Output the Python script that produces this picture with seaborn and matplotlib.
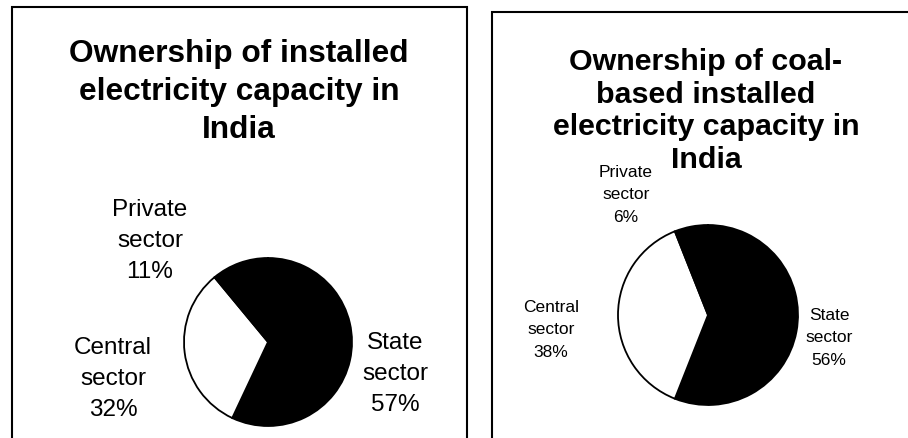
import matplotlib
matplotlib.use("Agg")
import matplotlib.pyplot as plt
from matplotlib.patches import Rectangle
import seaborn as sns

sns.set_theme(style="white")
plt.rcParams["font.family"] = ["Liberation Sans", "DejaVu Sans"]
plt.rcParams["text.color"] = "black"

# Shares of installed capacity by ownership (percent), Excel-style order
sectors = ["State", "Central", "Private"]
all_capacity = [57, 32, 11]
coal_capacity = [56, 38, 6]
sector_colors = ["black", "white", "black"]

title_all = "Ownership of installed\nelectricity capacity in\nIndia"
title_coal = "Ownership of coal-\nbased installed\nelectricity capacity in\nIndia"

W, H = 908, 438
fig = plt.figure(figsize=(W / 100, H / 100), dpi=100)
fig.patch.set_facecolor("white")


def fx(x):
    return x / W


def fy(y):
    return 1 - y / H


def pie_panel(values, cx, cy, r, label_pos, fontsize, linespacing):
    pad = 1.04
    ax = fig.add_axes([fx(cx - pad * r), fy(cy + pad * r),
                       2 * pad * r / W, 2 * pad * r / H])
    ax.pie(values, colors=sector_colors, startangle=90, counterclock=False,
           wedgeprops=dict(edgecolor="black", linewidth=1.3))
    ax.set_xlim(-pad, pad)
    ax.set_ylim(-pad, pad)
    ax.set_aspect("equal")
    ax.axis("off")
    for name, val, (lx, ly) in zip(sectors, values, label_pos):
        ax.text(lx, ly, f"{name}\nsector\n{val}%", ha="center", va="center",
                fontsize=fontsize, linespacing=linespacing, color="black",
                clip_on=False)
    return ax


# Left panel: all installed capacity
fig.add_artist(Rectangle((fx(11.5), fy(450)), fx(467) - fx(11.5), fy(7) - fy(450),
                         transform=fig.transFigure, fill=False,
                         edgecolor="black", linewidth=1.5))
fig.text(fx(239), fy(92), title_all, ha="center", va="center",
         fontsize=22.8, fontweight="bold", linespacing=1.36, color="black")
r1 = 84
pie_panel(all_capacity, 268, 342, r1,
          [((395 - 268) / r1, (342 - 374) / r1),
           ((113 - 268) / r1, (342 - 379) / r1),
           ((150 - 268) / r1, (342 - 241) / r1)],
          17.5, 1.55)

# Right panel: coal-based installed capacity
fig.add_artist(Rectangle((fx(492), fy(450)), fx(920) - fx(492), fy(12) - fy(450),
                         transform=fig.transFigure, fill=False,
                         edgecolor="black", linewidth=1.5))
fig.text(fx(706), fy(111), title_coal, ha="center", va="center",
         fontsize=21.9, fontweight="bold", linespacing=1.21, color="black")
r2 = 90
pie_panel(coal_capacity, 708, 315, r2,
          [((829 - 708) / r2, (315 - 338) / r2),
           ((551 - 708) / r2, (315 - 330) / r2),
           ((626 - 708) / r2, (315 - 195) / r2)],
          12.5, 1.63)

fig.savefig("out.png", dpi=100, facecolor="white")
